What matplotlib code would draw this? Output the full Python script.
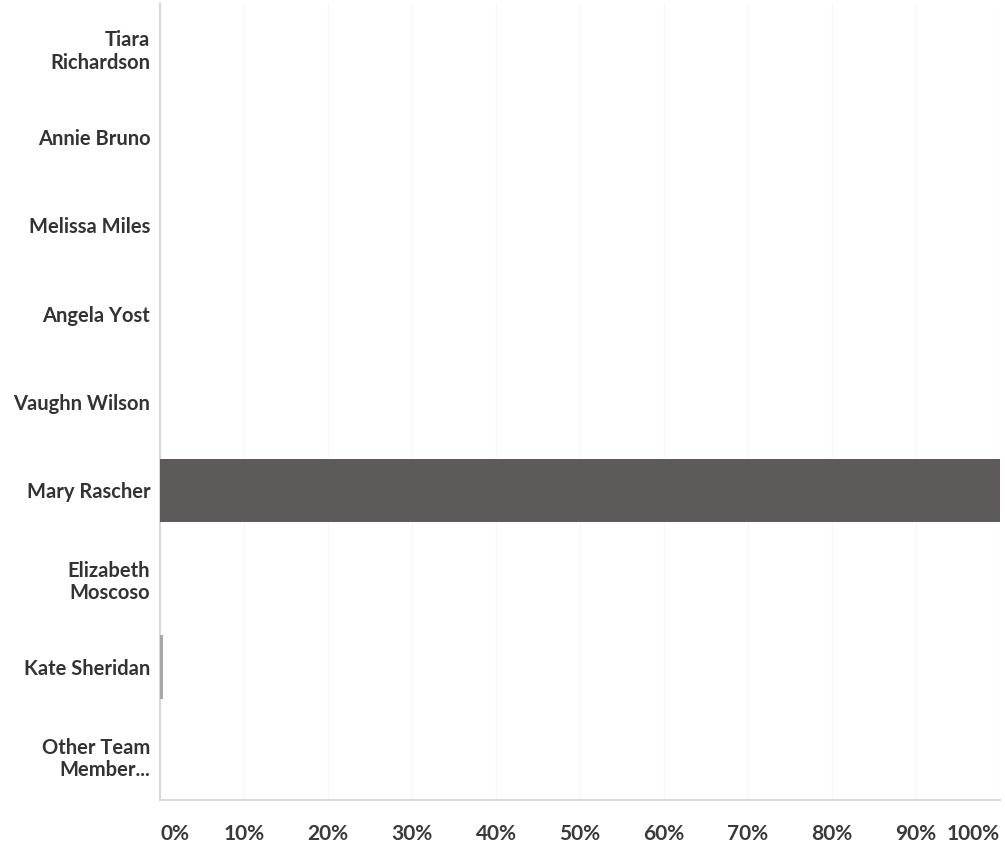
import matplotlib
matplotlib.use("Agg")
import matplotlib.pyplot as plt

# Survey responses: share of answers per team member (percent)
members = ["Tiara\nRichardson", "Annie Bruno", "Melissa Miles", "Angela Yost",
           "Vaughn Wilson", "Mary Rascher", "Elizabeth\nMoscoso", "Kate Sheridan",
           "Other Team\nMember..."]
shares = [0, 0, 0, 0, 0, 100, 0, 0.3, 0]
tick_values = [0, 10, 20, 30, 40, 50, 60, 70, 80, 90, 100]
tick_labels = ["0%", "10%", "20%", "30%", "40%", "50%", "60%", "70%", "80%", "90%", "100%"]

plt.rcParams["font.family"] = ["Lato", "DejaVu Sans"]

fig = plt.figure(figsize=(10.05, 8.46), dpi=100)
ax = fig.add_axes([160 / 1005, 1 - 800 / 846, 840 / 1005, 796 / 846])

ypos = list(range(len(members)))
colors = ["#5e5a5a" if v >= 50 else "#a8a6a6" for v in shares]
ax.barh(ypos, shares, height=0.72, color=colors, zorder=3)

ax.set_ylim(len(members) - 0.5, -0.5)
ax.set_xlim(0, 100)

ax.set_yticks(ypos)
ax.set_yticklabels(members, fontsize=14.5, fontweight="bold", color="#333333",
                   linespacing=1.15)
ax.set_xticks(tick_values)
ax.set_xticklabels(tick_labels, fontsize=15, fontweight="bold", color="#3a3a3a")
xl = ax.get_xticklabels()
xl[0].set_horizontalalignment("left")
xl[-1].set_horizontalalignment("right")

ax.tick_params(axis="y", length=0, pad=7)
ax.tick_params(axis="x", length=0, pad=17)

ax.grid(axis="x", color="#f7f7f7", linewidth=1, zorder=0)
ax.grid(axis="y", visible=False)

for side in ["top", "right"]:
    ax.spines[side].set_visible(False)
for side in ["left", "bottom"]:
    ax.spines[side].set_color("#d8d8d8")
    ax.spines[side].set_linewidth(1.5)

fig.savefig("out.png", dpi=100, facecolor="white")
